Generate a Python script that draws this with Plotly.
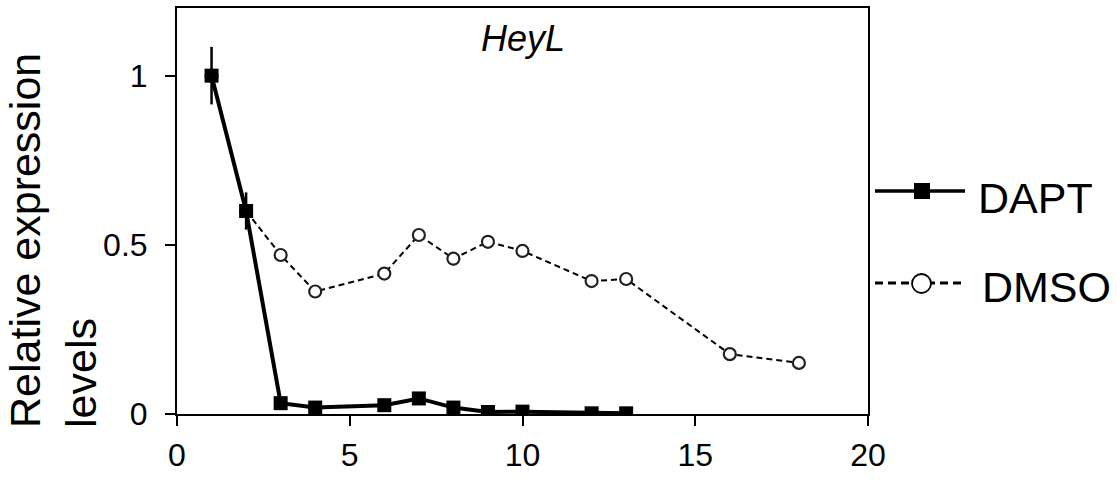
import plotly.graph_objects as go

# Time course of HeyL expression (relative to day 1)
dapt_x = [1, 2, 3, 4, 6, 7, 8, 9, 10, 12, 13]
dapt_y = [1.0, 0.6, 0.032, 0.019, 0.026, 0.046, 0.019, 0.006, 0.007, 0.002, 0.002]
dapt_err = [0.085, 0.055, 0, 0, 0, 0, 0, 0, 0, 0, 0]

dmso_x = [1, 2, 3, 4, 6, 7, 8, 9, 10, 12, 13, 16, 18]
dmso_y = [1.0, 0.6, 0.47, 0.362, 0.415, 0.529, 0.459, 0.509, 0.482, 0.393, 0.399, 0.177, 0.151]
dmso_err = [0, 0, 0, 0, 0, 0, 0.02, 0.01, 0, 0, 0, 0, 0]

x_ticks = [0, 5, 10, 15, 20]
y_ticks = [0, 0.5, 1]
y_tick_text = ["0", "0.5", "1"]

FONT = "Liberation Sans, Arial, sans-serif"
W, H = 1117, 480
ML, MR, MT, MB = 177, 249, 8, 66
PW, PH = W - ML - MR, H - MT - MB


def px(x):
    return (x - ML) / PW


def py(y):
    return (H - MB - y) / PH


fig = go.Figure()

fig.add_trace(go.Scatter(
    x=dmso_x, y=dmso_y, mode="lines+markers", name="DMSO",
    line=dict(color="black", width=2, dash="6px,4px"),
    marker=dict(symbol="circle", size=12, color="white",
                line=dict(color="#222", width=2.2)),
    error_y=dict(type="data", array=dmso_err, color="black",
                 thickness=1.5, width=0),
    showlegend=False,
))
fig.add_trace(go.Scatter(
    x=dapt_x, y=dapt_y, mode="lines+markers", name="DAPT",
    line=dict(color="black", width=4),
    marker=dict(symbol="square", size=14, color="black"),
    error_y=dict(type="data", array=dapt_err, color="black",
                 thickness=2.5, width=0),
    showlegend=False,
))

# Hand-built legend to the right of the plot area
shapes = [
    dict(type="line", xref="paper", yref="paper",
         x0=px(875), x1=px(965), y0=py(191), y1=py(191),
         line=dict(color="black", width=3.5)),
    dict(type="rect", xref="paper", yref="paper",
         x0=px(914), x1=px(930), y0=py(199), y1=py(183),
         fillcolor="black", line=dict(width=0)),
    dict(type="line", xref="paper", yref="paper",
         x0=px(875), x1=px(965), y0=py(283), y1=py(283),
         line=dict(color="black", width=3, dash="8px,5px")),
    dict(type="circle", xref="paper", yref="paper",
         x0=px(912), x1=px(931), y0=py(293), y1=py(274),
         fillcolor="white", line=dict(color="black", width=1.8)),
]

annotations = [
    dict(text="<i>HeyL</i>", x=0.5, y=py(38), xref="paper", yref="paper",
         xanchor="center", yanchor="middle", showarrow=False,
         font=dict(family=FONT, size=36, color="black")),
    dict(text="DAPT", x=px(976), y=py(198), xref="paper", yref="paper",
         xanchor="left", yanchor="middle", showarrow=False,
         font=dict(family=FONT, size=43, color="black")),
    dict(text="DMSO", x=px(980), y=py(287), xref="paper", yref="paper",
         xanchor="left", yanchor="middle", showarrow=False,
         font=dict(family=FONT, size=43, color="black")),
    dict(text="Relative expression<br>levels", x=px(53), y=py(241),
         xref="paper", yref="paper", xanchor="center", yanchor="middle",
         textangle=-90, align="left", showarrow=False,
         font=dict(family=FONT, size=43, color="black")),
]

fig.update_layout(
    width=W, height=H,
    margin=dict(l=ML, r=MR, t=MT, b=MB, autoexpand=False),
    paper_bgcolor="white", plot_bgcolor="white",
    font=dict(family=FONT, color="black"),
    shapes=shapes, annotations=annotations,
    xaxis=dict(range=[0, 20], tickvals=x_ticks, ticks="outside", ticklen=10,
               tickwidth=2, tickcolor="black", showline=True, mirror=True,
               linecolor="black", linewidth=2, showgrid=False, zeroline=False,
               tickfont=dict(family=FONT, size=32, color="black"),
               ticklabelstandoff=2, automargin=False),
    yaxis=dict(range=[0, 1.2], tickvals=y_ticks, ticktext=y_tick_text,
               ticks="outside", ticklen=10, tickwidth=2, tickcolor="black",
               showline=True, mirror=True, linecolor="black", linewidth=2,
               showgrid=False, zeroline=False,
               tickfont=dict(family=FONT, size=32, color="black"),
               ticklabelstandoff=11, automargin=False),
)

fig.write_html("out.html")
